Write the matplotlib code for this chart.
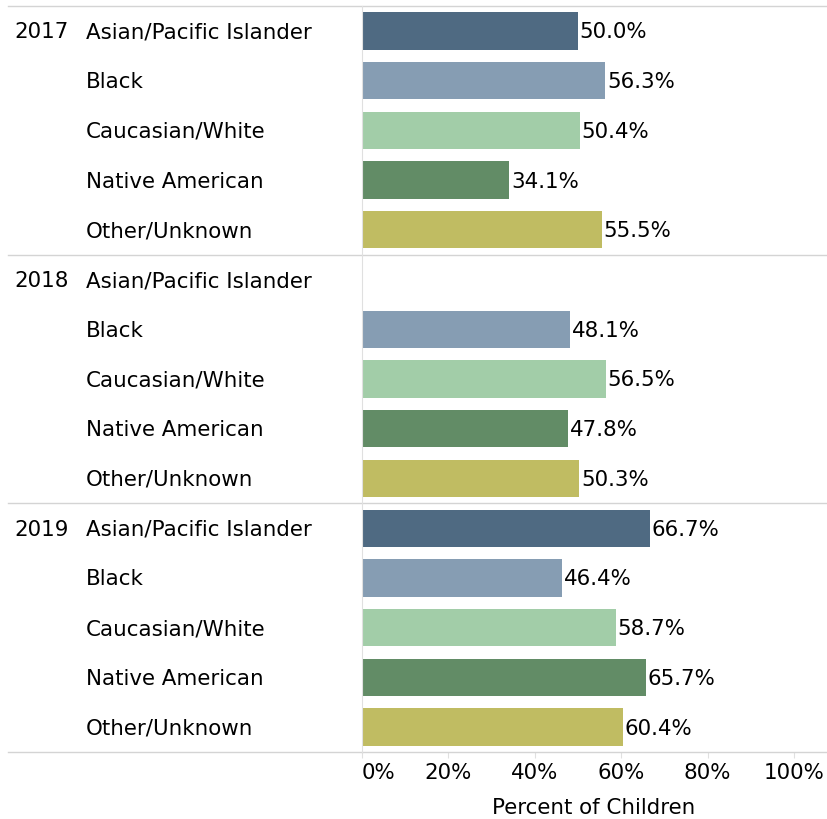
import numpy as np
import matplotlib.pyplot as plt
import matplotlib.transforms as mtransforms

plt.rcParams['font.family'] = ['DejaVu Sans']

# data
years = ['2017', '2018', '2019']
groups = ['Asian/Pacific Islander', 'Black', 'Caucasian/White', 'Native American', 'Other/Unknown']
pct_2017 = [50.0, 56.3, 50.4, 34.1, 55.5]
pct_2018 = [np.nan, 48.1, 56.5, 47.8, 50.3]
pct_2019 = [66.7, 46.4, 58.7, 65.7, 60.4]
group_colors = ['#4f6a82', '#869db3', '#a2cda8', '#628c66', '#c0bc62']

values = [pct_2017, pct_2018, pct_2019]
fs = 15.4

fig = plt.figure(figsize=(8.28, 8.19), dpi=100)
ax = fig.add_axes([362 / 828, 1 - 752 / 819, 464 / 828, 746 / 819])
trans = mtransforms.blended_transform_factory(fig.transFigure, ax.transData)

row = 0
for yi, yr in enumerate(years):
    for gi, g in enumerate(groups):
        v = values[yi][gi]
        if not np.isnan(v):
            ax.barh(row, v, height=0.75, color=group_colors[gi])
            ax.text(v + 0.4, row + 0.03, f'{v:.1f}%', va='center', ha='left', fontsize=fs)
        # row labels
        ax.text(86 / 828, row + 0.03, g, transform=trans, va='center', ha='left', fontsize=fs)
        if gi == 0:
            ax.text(14 / 828, row + 0.03, yr, transform=trans, va='center', ha='left', fontsize=fs)
        row += 1

# section separators
for y in [-0.5, 4.5, 9.5, 14.5]:
    ax.plot([8 / 828, 826 / 828], [y, y], transform=trans, color='#d4d4d4', lw=1, clip_on=False)

ax.set_ylim(14.5, -0.5)
ax.set_xlim(0, (826 - 362) / 4.32)
ax.set_xticks([0, 20, 40, 60, 80, 100])
ax.set_xticklabels(['0%', '20%', '40%', '60%', '80%', '100%'], fontsize=fs)
ax.get_xticklabels()[0].set_horizontalalignment('left')
ax.tick_params(axis='x', length=4, color='#e0e0e0', pad=4)
ax.set_yticks([])
ax.set_xlabel('Percent of Children', fontsize=fs, labelpad=11)

for s in ['top', 'right', 'bottom']:
    ax.spines[s].set_visible(False)
ax.spines['left'].set_color('#e0e0e0')

fig.savefig('out.png', dpi=100)
